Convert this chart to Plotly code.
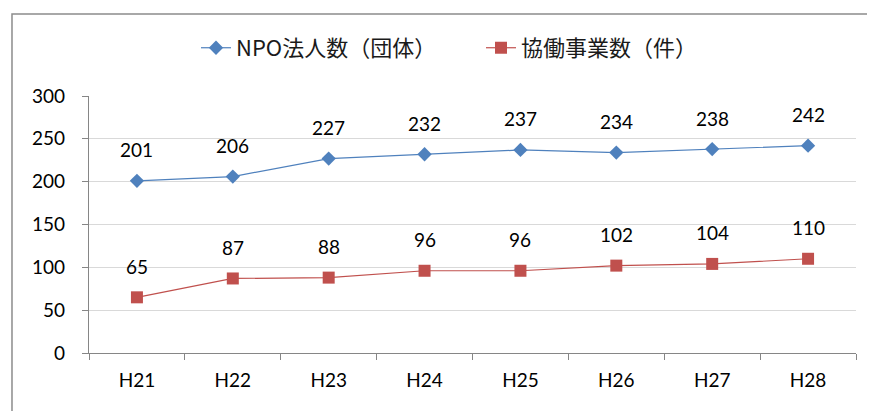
import plotly.graph_objects as go

categories = ["H21", "H22", "H23", "H24", "H25", "H26", "H27", "H28"]
npo_counts = [201, 206, 227, 232, 237, 234, 238, 242]
collab_counts = [65, 87, 88, 96, 96, 102, 104, 110]
series_names = ["NPO法人数（団体）", "協働事業数（件）"]

BLUE = "#4F81BD"
RED = "#C0504D"
LABEL_FONT = dict(family="Lato, Carlito, Liberation Sans, sans-serif", size=19, color="#000000")

fig = go.Figure()
fig.add_trace(go.Scatter(
    x=categories, y=npo_counts, name=series_names[0], mode="lines+markers",
    line=dict(color=BLUE, width=1.2),
    marker=dict(symbol="diamond", size=11, color=BLUE),
))
fig.add_trace(go.Scatter(
    x=categories, y=collab_counts, name=series_names[1], mode="lines+markers",
    line=dict(color=RED, width=1.2),
    marker=dict(symbol="square", size=12, color=RED),
))

for vals in (npo_counts, collab_counts):
    for c, v in zip(categories, vals):
        fig.add_annotation(x=c, y=v, text=str(v), showarrow=False,
                           yshift=31, font=LABEL_FONT, xref="x", yref="y")

# chart outer border (cropped at right/bottom in reference)
fig.add_shape(type="rect", xref="paper", yref="paper",
              x0=-0.1004, x1=1.2, y0=-0.5, y1=1.319,
              line=dict(color="#8C8C8C", width=1.5), fillcolor="rgba(0,0,0,0)", layer="below")

fig.update_layout(
    width=867, height=403,
    margin=dict(l=81, r=19, t=88, b=58),
    paper_bgcolor="white", plot_bgcolor="white",
    showlegend=True,
    legend=dict(orientation="h", x=0.1395, xanchor="left", y=1.187, yanchor="middle",
                font=dict(family="Noto Sans CJK JP", size=22, color="#1a1a1a"),
                entrywidth=240, entrywidthmode="pixels",
                itemwidth=30, bgcolor="rgba(0,0,0,0)"),
    xaxis=dict(type="category", range=[-0.5, 7.5], tickson="boundaries",
               ticks="outside", ticklen=6, tickcolor="#868686",
               showline=True, linecolor="#868686", linewidth=1.2,
               showgrid=False, tickfont=LABEL_FONT, ticklabelstandoff=10),
    yaxis=dict(range=[0, 300], dtick=50, ticks="outside", ticklen=6,
               tickcolor="#868686", showline=True, linecolor="#868686", linewidth=1.2,
               showgrid=True, gridcolor="#D9D9D9", gridwidth=1.2,
               zeroline=False, tickfont=LABEL_FONT, ticklabelstandoff=13),
)

fig.write_html("out.html")
